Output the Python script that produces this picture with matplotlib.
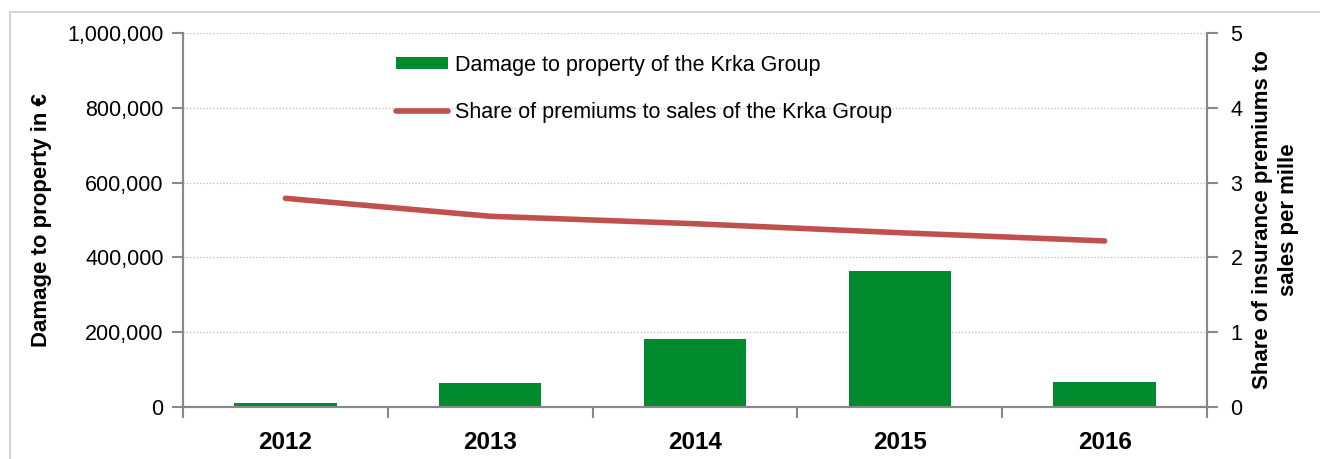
import matplotlib
matplotlib.use("Agg")
import matplotlib.pyplot as plt
from matplotlib.patches import Rectangle
from matplotlib.ticker import FuncFormatter, FixedLocator

plt.rcParams['font.family'] = ['Liberation Sans', 'DejaVu Sans']

# data
years = ['2012', '2013', '2014', '2015', '2016']
damage = [10000, 63000, 182000, 364000, 67000]          # EUR
premium_share = [2.79, 2.55, 2.45, 2.33, 2.22]          # per mille

green = '#008A2E'
red = '#C0504D'

fig = plt.figure(figsize=(13.2, 4.59), dpi=100)
ax = fig.add_axes([183 / 1320, 1 - 407 / 459, 1024 / 1320, 374 / 459])
ax2 = ax.twinx()

x = list(range(len(years)))
bars = ax.bar(x, damage, width=0.5, color=green, zorder=2,
              label='Damage to property of the Krka Group')
line, = ax2.plot(x, premium_share, color=red, lw=4, solid_capstyle='round',
                 label='Share of premiums to sales of the Krka Group')

ax.set_xlim(-0.5, 4.5)
ax.set_ylim(0, 1000000)
ax2.set_ylim(0, 5)
ax.set_yticks(range(0, 1000001, 200000))
ax.yaxis.set_major_formatter(FuncFormatter(lambda v, p: f'{int(v):,}'))
ax2.set_yticks(range(0, 6))

ax.set_xticks(x)
ax.set_xticklabels(years, fontsize=17.5, fontweight='bold')
ax.xaxis.set_minor_locator(FixedLocator([-0.5, 0.5, 1.5, 2.5, 3.5, 4.5]))
ax.tick_params(axis='x', which='major', length=0, pad=17)
ax.tick_params(axis='x', which='minor', length=8, width=1.5, color='#888888')
ax.tick_params(axis='y', length=8, width=1.5, color='#888888', labelsize=15.5, pad=6)
ax2.tick_params(axis='y', length=8, width=1.5, color='#888888', labelsize=15.5, pad=9)

ax.grid(axis='y', linestyle=':', color='#BBBBBB', lw=0.9, zorder=0)
ax.set_axisbelow(True)

for a in (ax, ax2):
    a.spines['top'].set_visible(False)
    for s in ('left', 'right', 'bottom'):
        a.spines[s].set_color('#888888')
        a.spines[s].set_linewidth(1.5)

ax.set_ylabel('Damage to property in €', fontsize=16, fontweight='bold')
ax.yaxis.set_label_coords((52 - 183) / 1024, 0.5)
ax2.set_ylabel('Share of insurance premiums to\nsales per mille', fontsize=16,
               fontweight='bold', linespacing=1.3)
ax2.yaxis.set_label_coords((1252 - 183) / 1024, 0.5)

ax.legend(handles=[bars, line], loc='upper left', bbox_to_anchor=(0.2, 0.965),
          frameon=False, fontsize=15.5, handlelength=2.4, handleheight=0.45,
          labelspacing=1.2, handletextpad=0.3, borderaxespad=0)

# light frame around the whole chart
fig.patches.append(Rectangle((10 / 1320, -0.02), 1.1, 1 - 12 / 459 + 0.02,
                             transform=fig.transFigure, fill=False,
                             edgecolor='#CCCCCC', lw=1.2))

fig.savefig('out.png', dpi=100)
